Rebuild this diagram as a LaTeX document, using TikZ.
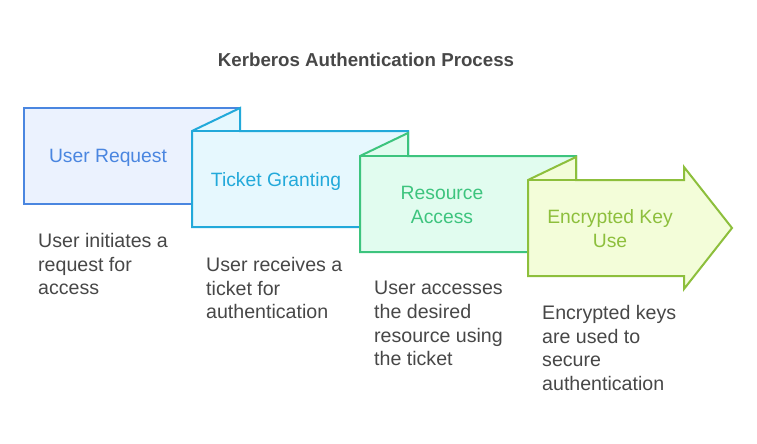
\documentclass[tikz,border=0pt]{standalone}
\usepackage{fontspec}
\setmainfont{Liberation Sans}
\definecolor{cA}{HTML}{4A86E0}
\definecolor{fA}{HTML}{EBF2FE}
\definecolor{cB}{HTML}{22A9DA}
\definecolor{fB}{HTML}{E6F8FE}
\definecolor{cC}{HTML}{3DC47E}
\definecolor{fC}{HTML}{E1FCEF}
\definecolor{cD}{HTML}{8DBF3C}
\definecolor{fD}{HTML}{F3FDD9}
\definecolor{txt}{HTML}{474747}
\begin{document}
\begin{tikzpicture}[x=1pt,y=-1pt,
  shp/.style={line width=2pt,line join=miter},
  lbl/.style={align=center,font=\fontsize{19.3}{24}\selectfont,inner sep=0pt},
  desc/.style={align=left,anchor=north west,text=txt,font=\fontsize{19.6}{23.7}\selectfont,inner sep=0pt},
  ttl/.style={text=txt,font=\fontsize{18.7}{22}\selectfont\bfseries,inner sep=0pt}]
\useasboundingbox (0,0) rectangle (757,444);
\node[ttl] (title) at (366,60) {Kerberos Authentication Process};
% box 1
\draw[shp,draw=cA,fill=fA] (24,108) rectangle (240,204);
% box 2
\draw[shp,draw=cB,fill=fB] (192,131) -- (240,108) -- (240,131) -- (408,131) -- (408,227) -- (192,227) -- cycle;
\draw[shp,draw=cB] (192,131) -- (240,131);
% box 3
\draw[shp,draw=cC,fill=fC] (360,156) -- (408,133) -- (408,156) -- (576,156) -- (576,252) -- (360,252) -- cycle;
\draw[shp,draw=cC] (360,156) -- (408,156);
% box 4 arrow
\draw[shp,draw=cD,fill=fD] (528,180) -- (576,157) -- (576,180) -- (684,180) -- (684,167) -- (732,228) -- (684,289) -- (684,276) -- (528,276) -- cycle;
\draw[shp,draw=cD] (528,180) -- (576,180);
% labels
\node[lbl,text=cA] (l1) at (108,158) {User Request};
\node[lbl,text=cB] (l2) at (276,182) {Ticket Granting};
\node[lbl,text=cC] (l3) at (442,205) {Resource\\Access};
\node[lbl,text=cD] (l4) at (610,229) {Encrypted Key\\Use};
% descriptions
\node[desc] (d1) at (38,233) {User initiates a\\request for\\access};
\node[desc] (d2) at (206,257) {User receives a\\ticket for\\authentication};
\node[desc] (d3) at (374,281) {User accesses\\the desired\\resource using\\the ticket};
\node[desc] (d4) at (542,305) {Encrypted keys\\are used to\\secure\\authentication};
\end{tikzpicture}
\end{document}
